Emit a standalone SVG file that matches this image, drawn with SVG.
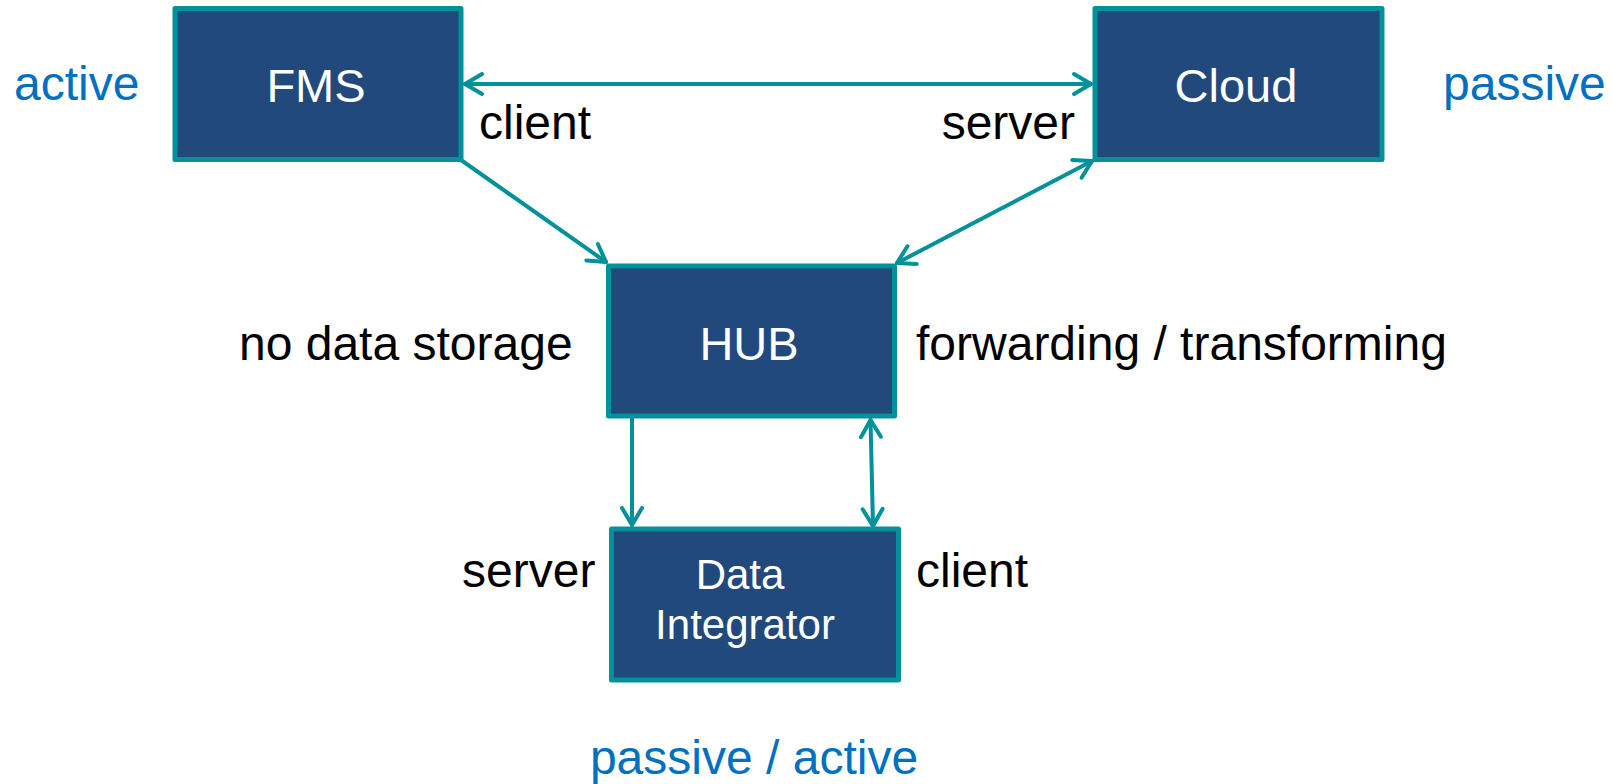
<svg xmlns="http://www.w3.org/2000/svg" width="1614" height="784" viewBox="0 0 1614 784">
  <style>
    .box { fill: #21497B; stroke: #00919A; stroke-width: 5; stroke-linejoin: round; }
    .boxlabel { fill: #FFFFFF; font-family: "Liberation Sans", Arial, sans-serif; font-size: 47px; text-anchor: middle; }
    .dilabel { fill: #FFFFFF; font-family: "Liberation Sans", Arial, sans-serif; font-size: 42px; text-anchor: middle; }
    .note { fill: #000000; font-family: "Liberation Sans", Arial, sans-serif; font-size: 48px; }
    .role { fill: #0070C0; font-family: "Liberation Sans", Arial, sans-serif; font-size: 48px; }
    .conn { stroke: #00919A; stroke-width: 4; fill: none; stroke-linecap: round; }
  </style>
  <defs>
    <marker id="arrow" markerUnits="userSpaceOnUse" viewBox="-22 -14 26 28" refX="0" refY="0" markerWidth="26" markerHeight="28" orient="auto-start-reverse">
      <path d="M-17,-10 L0,0 L-17,10" fill="none" stroke="#00919A" stroke-width="4" stroke-linecap="round" stroke-linejoin="round"/>
    </marker>
  </defs>

  <g id="connectors">
    <line class="conn" x1="465" y1="84" x2="1091" y2="84" marker-start="url(#arrow)" marker-end="url(#arrow)"/>
    <line class="conn" x1="461" y1="160" x2="606" y2="262" marker-end="url(#arrow)"/>
    <line class="conn" x1="1092" y1="161" x2="897" y2="263" marker-start="url(#arrow)" marker-end="url(#arrow)"/>
    <line class="conn" x1="632" y1="418" x2="632" y2="525" marker-end="url(#arrow)"/>
    <line class="conn" x1="870.5" y1="420" x2="873" y2="526" marker-start="url(#arrow)" marker-end="url(#arrow)"/>
  </g>

  <g id="fms">
    <rect class="box" x="175" y="8.5" width="286" height="151"/>
    <text class="boxlabel" x="316" y="102">FMS</text>
  </g>
  <g id="cloud">
    <rect class="box" x="1095" y="8.5" width="287" height="151"/>
    <text class="boxlabel" x="1236" y="102">Cloud</text>
  </g>
  <g id="hub">
    <rect class="box" x="608.5" y="266" width="286" height="150"/>
    <text class="boxlabel" x="749" y="360">HUB</text>
  </g>
  <g id="data-integrator">
    <rect class="box" x="611.5" y="529" width="287" height="151"/>
    <text class="dilabel" x="740" y="589">Data</text>
    <text class="dilabel" x="745" y="639">Integrator</text>
  </g>

  <g id="labels">
    <text class="role" x="14" y="100">active</text>
    <text class="role" x="1443" y="100">passive</text>
    <text class="note" x="479" y="139">client</text>
    <text class="note" x="1075" y="139" text-anchor="end">server</text>
    <text class="note" x="239" y="360">no data storage</text>
    <text class="note" x="916" y="360">forwarding / transforming</text>
    <text class="note" x="462" y="587">server</text>
    <text class="note" x="916" y="587">client</text>
    <text class="role" x="754" y="774" text-anchor="middle">passive / active</text>
  </g>
</svg>
